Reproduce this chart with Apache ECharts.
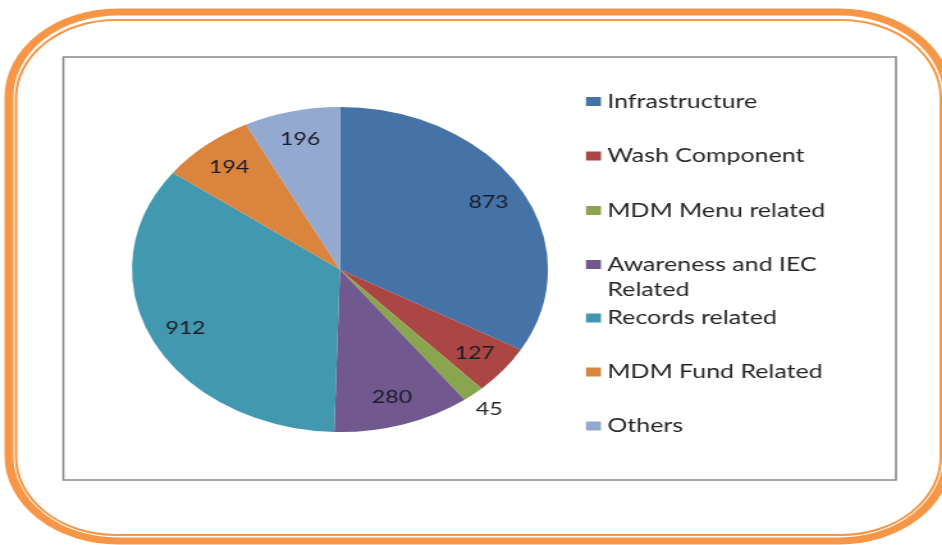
<!DOCTYPE html>
<html>
<head>
<meta charset="utf-8">
<script src="https://cdn.jsdelivr.net/npm/echarts@6/dist/echarts.min.js"></script>
<style>
  html, body { margin: 0; padding: 0; background: #fff; overflow: hidden; }
  /* the source picture is a stretched Excel chart, so draw it narrow and stretch it the same way */
  #main { position: absolute; left: 0; top: 0; width: 736px; height: 545px; transform: scaleX(1.28); transform-origin: 0 0; }
</style>
</head>
<body>
<div id="main"></div>
<script>
const categories = ['Infrastructure', 'Wash Component', 'MDM Menu related', 'Awareness and IEC Related', 'Records related', 'MDM Fund Related', 'Others'];
const values = [873, 127, 45, 280, 912, 194, 196];
const colors = ['#4572A7', '#AA4643', '#89A54E', '#71588F', '#4198AF', '#DB843D', '#93A9CF'];

const FONT = 'Lato';
const center = [265.6, 269.5];
const legendTops = [89, 143.5, 198, 227, 305.5, 359.5, 413.5];

const chart = echarts.init(document.getElementById('main'), null, { renderer: 'canvas' });

const pieData = categories.map((name, i) => ({
  name: name,
  value: values[i],
  itemStyle: { color: colors[i] },
}));

// transparent copies of the pie only carry the value labels
const labelData = (show) => categories.map((name, i) => ({
  name: name,
  value: values[i],
  label: { show: show(i) },
}));

// long name wraps after "IEC"; the empty first line keeps line one level with the icon
const legendText = (n) => n.indexOf('IEC ') >= 0 ? '\n' + n.replace('IEC ', 'IEC\n') : n;

const option = {
  animation: false,
  graphic: [
    { type: 'rect', silent: true, shape: { x: 7, y: 12, width: 733.6, height: 529, r: 85 },
      style: { fill: 'none', stroke: '#F79646', lineWidth: 7 } },
    { type: 'rect', silent: true, shape: { x: 12.5, y: 20, width: 722.5, height: 515, r: 78 },
      style: { fill: 'none', stroke: '#F79646', lineWidth: 2 } },
    { type: 'rect', silent: true, shape: { x: 49.5, y: 57, width: 650.5, height: 423 },
      style: { fill: 'none', stroke: '#8a8a8a', lineWidth: 1.6 } },
  ],
  legend: categories.map((name, i) => ({
    data: [name],
    left: 457.8,
    top: legendTops[i],
    orient: 'vertical',
    padding: 0,
    icon: 'rect',
    itemWidth: 11.7,
    itemHeight: 9,
    selectedMode: false,
    formatter: legendText,
    textStyle: {
      fontFamily: FONT,
      fontSize: 19.5,
      color: '#262626',
      lineHeight: 25,
    },
  })),
  series: [
    {
      type: 'pie',
      center: center,
      radius: 162.5,
      startAngle: 90,
      silent: true,
      label: { show: false },
      labelLine: { show: false },
      itemStyle: { borderWidth: 0 },
      data: pieData,
    },
    {
      type: 'pie',
      center: center,
      radius: [100, 162.5],
      startAngle: 90,
      silent: true,
      itemStyle: { color: 'rgba(0,0,0,0)' },
      labelLine: { show: false },
      label: { position: 'inside', formatter: '{c}', fontFamily: FONT, fontSize: 18, color: '#1c1c28' },
      data: labelData((i) => i !== 2),
    },
    {
      type: 'pie',
      center: center,
      radius: [172, 186],
      startAngle: 90,
      silent: true,
      itemStyle: { color: 'rgba(0,0,0,0)' },
      labelLine: { show: false },
      label: { position: 'inside', formatter: '{c}', fontFamily: FONT, fontSize: 18, color: '#262626' },
      data: labelData((i) => i === 2),
    },
  ],
};

chart.setOption(option);
</script>
</body>
</html>
